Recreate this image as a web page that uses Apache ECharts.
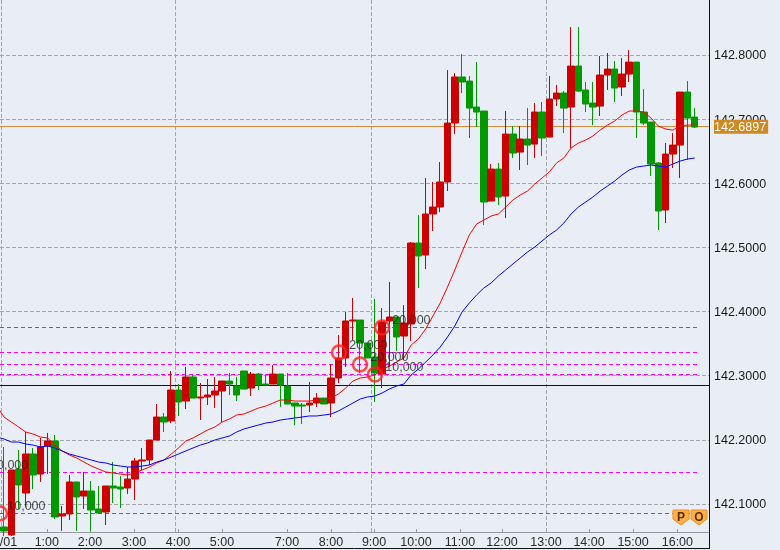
<!DOCTYPE html>
<html><head><meta charset="utf-8">
<style>html,body{margin:0;padding:0;background:#e9edf5}#c{width:780px;height:550px}</style>
<script src="https://cdn.jsdelivr.net/npm/echarts@6/dist/echarts.min.js"></script>
</head><body><div id="c"></div>
<script>
// [open, close, low, high] for each ten-minute candle, index 0 upward
const candles = [
[142.0641,142.0579,142.05,142.1888],[142.0516,142.153,142.05,142.153],[142.1545,142.1296,142.0922,142.1841],[142.1171,142.1779,142.0953,142.2122],
[142.1779,142.1452,142.1233,142.1873],[142.1467,142.1888,142.1343,142.2029],[142.1904,142.1982,142.1467,142.2107],[142.1982,142.0797,142.0766,142.2075],
[142.0813,142.0844,142.0579,142.0968],[142.0844,142.1343,142.075,142.1452],[142.1343,142.1109,142.0579,142.1343],[142.1124,142.1202,142.0922,142.1499],
[142.1202,142.0906,142.0579,142.1358],[142.0922,142.0859,142.0859,142.128],[142.0875,142.128,142.0672,142.128],[142.128,142.1249,142.1015,142.1654],
[142.1265,142.1233,142.0937,142.1436],[142.1249,142.1389,142.1156,142.1576],[142.1389,142.167,142.1062,142.1717],[142.167,142.1686,142.153,142.1873],
[142.1686,142.1997,142.1608,142.1997],[142.1997,142.2356,142.1997,142.2559],[142.2356,142.2278,142.2122,142.2418],[142.2294,142.2777,142.2262,142.3073],
[142.2777,142.259,142.2372,142.287],[142.2605,142.298,142.2481,142.3135],[142.298,142.2652,142.2652,142.3011],[142.2652,142.2668,142.2309,142.2886],
[142.2668,142.2699,142.2543,142.2948],[142.2699,142.2761,142.2496,142.298],[142.2761,142.2917,142.2278,142.2917],[142.2917,142.287,142.2699,142.3042],
[142.2839,142.2699,142.2605,142.298],[142.3073,142.2792,142.2792,142.3073],[142.2808,142.3026,142.2683,142.3058],[142.3026,142.2855,142.2777,142.3042],
[142.287,142.2855,142.2855,142.3026],[142.287,142.3026,142.287,142.3167],[142.3026,142.2855,142.2512,142.3026],[142.2839,142.2559,142.2559,142.3042],
[142.2574,142.2527,142.2231,142.2574],[142.2543,142.2527,142.2247,142.2574],[142.2543,142.2574,142.2434,142.2902],[142.2574,142.2652,142.2512,142.273],
[142.2652,142.2559,142.2559,142.2652],[142.2574,142.2964,142.2356,142.3182],[142.2964,142.3276,142.2886,142.3634],[142.3276,142.3853,142.3135,142.3993],
[142.3853,142.3868,142.3556,142.4211],[142.3868,142.351,142.3042,142.3868],[142.351,142.3276,142.3276,142.351],[142.3291,142.3042,142.259,142.4196],
[142.3026,142.3837,142.2808,142.4055],[142.3853,142.3915,142.3135,142.4461],[142.3915,142.3603,142.3385,142.3915],[142.3619,142.3821,142.3245,142.4102],
[142.3806,142.5069,142.3541,142.5084],[142.5069,142.4866,142.4367,142.5505],[142.4882,142.5521,142.4663,142.6082],[142.5521,142.563,142.5256,142.602],
[142.563,142.602,142.5552,142.6331],[142.602,142.6939,142.5879,142.7766],[142.6939,142.7657,142.6768,142.7719],[142.7657,142.7579,142.7407,142.8015],
[142.7594,142.7173,142.6706,142.7672],[142.7189,142.7111,142.6877,142.789],[142.7127,142.5708,142.5349,142.7127],[142.5723,142.6222,142.5723,142.63],
[142.6222,142.5786,142.5661,142.6316],[142.5801,142.6768,142.5458,142.7127],[142.6768,142.6472,142.6394,142.6893],[142.6487,142.669,142.6207,142.6893],
[142.669,142.6596,142.6285,142.7173],[142.6612,142.7111,142.6394,142.7251],[142.7111,142.6706,142.6425,142.7267],[142.6721,142.7314,142.6721,142.7672],
[142.7314,142.7407,142.7204,142.7532],[142.7407,142.7173,142.6784,142.7438],[142.7189,142.7828,142.655,142.8436],[142.7828,142.7438,142.7423,142.8436],
[142.7454,142.7236,142.7111,142.7579],[142.7251,142.7189,142.6908,142.7579],[142.7204,142.7688,142.7049,142.7984],[142.7688,142.7781,142.7454,142.8031],
[142.7781,142.7485,142.7267,142.7906],[142.7501,142.7703,142.736,142.7953],[142.7703,142.789,142.7579,142.8077],[142.789,142.7111,142.6706,142.789],
[142.7111,142.6939,142.6908,142.7469],[142.6955,142.63,142.6113,142.6955],[142.6316,142.5568,142.5271,142.6331],[142.5583,142.6456,142.538,142.6628],
[142.6456,142.6596,142.6238,142.6784],[142.6596,142.7423,142.6082,142.7423],[142.7423,142.7017,142.6363,142.7594],[142.7033,142.6877,142.6861,142.7173]
];
// moving averages; the first value belongs to the candle just before index 0
const maRed = [142.2527,142.2356,142.2278,142.22,142.2122,142.2091,142.2044,142.2029,142.1919,142.1826,142.1764,142.1717,142.1654,142.1592,142.1545,142.1499,142.1483,142.1467,142.1452,142.1483,142.153,142.1576,142.1639,142.1686,142.1779,142.1873,142.1982,142.2029,142.2091,142.2153,142.22,142.2278,142.2325,142.2387,142.2403,142.245,142.2496,142.2527,142.2574,142.2621,142.2621,142.2605,142.2605,142.2605,142.2621,142.2621,142.2652,142.2715,142.2808,142.2917,142.2964,142.298,142.3011,142.3089,142.3151,142.3213,142.3276,142.3478,142.3572,142.3728,142.3931,142.4133,142.4383,142.4648,142.4928,142.5193,142.5365,142.5427,142.549,142.5521,142.563,142.5739,142.5817,142.5879,142.5988,142.6082,142.6176,142.6316,142.6394,142.655,142.6628,142.6674,142.6737,142.683,142.6908,142.6971,142.7064,142.7127,142.7127,142.7111,142.7017,142.6893,142.6846,142.683,142.6893,142.6908,142.6908];
const maBlue = [142.2044,142.2013,142.1966,142.1966,142.1935,142.1919,142.1888,142.1904,142.1873,142.1826,142.1779,142.1748,142.1717,142.1686,142.1654,142.1639,142.1608,142.1592,142.1576,142.1576,142.1592,142.1608,142.1654,142.1686,142.1732,142.1779,142.1826,142.1873,142.1919,142.1951,142.1997,142.2029,142.206,142.2122,142.2169,142.22,142.2231,142.2262,142.2278,142.2309,142.2325,142.234,142.2356,142.2372,142.2372,142.2387,142.2403,142.245,142.2512,142.2574,142.2637,142.2668,142.2683,142.273,142.2792,142.2839,142.287,142.3011,142.3104,142.3213,142.3323,142.3447,142.3603,142.3775,142.3993,142.4133,142.4258,142.4367,142.4445,142.4554,142.4648,142.4741,142.4835,142.4928,142.5006,142.51,142.5193,142.5271,142.538,142.5521,142.563,142.5708,142.5786,142.5879,142.5957,142.6035,142.6129,142.6207,142.6253,142.6269,142.6285,142.6269,142.6253,142.63,142.6347,142.6378,142.6394];
const priceTicks = [142.1,142.2,142.3,142.4,142.5,142.6,142.7,142.8];
const currentPrice = 142.6897;
const blackLevel = 142.2847;
const pendingLevels = [142.3752,142.3362,142.3175,142.3019,142.1491,142.0852];
const timeLabels = ['/01','1:00','2:00','3:00','4:00','5:00','7:00','8:00','9:00','10:00','11:00','12:00','13:00','14:00','15:00','16:00'];
const timeLabelAt = [0.62,5.89,11.83,17.88,23.93,29.99,38.93,44.98,50.9,56.67,62.72,68.5,74.55,80.47,86.52,92.62];
const timeLinesAt = [-0.344,23.59,50.55,74.62];
const tradeX = [-0.55,-0.55,46.08,48.97,51.03,52];
const tradeY = [142.0852,142.1491,142.3362,142.3175,142.3019,142.3752];
const tradeText = ['10,000','20,000','20,000','20,000','10,000','20,000'];

const xMin=-0.55, xMax=96.97, yMin=142.0563, yMax=142.8858, levelEnd=95.45;
const gridLines=[
  ...timeLinesAt.map(v=>({xAxis:v,lineStyle:{color:'#a6a6a6',type:[4,2],width:1}})),
  {yAxis:currentPrice,lineStyle:{color:'#cc8c3c',type:'solid',width:1}},
  {yAxis:blackLevel,lineStyle:{color:'#111',type:'solid',width:1}},
  ...pendingLevels.map(v=>[{coord:[xMin,v],lineStyle:{color:'#ff00ff',type:[4,3],width:1}},{coord:[levelEnd,v]}])
];
const withIndex=a=>a.map((v,i)=>[i-1,v]);
const chart=echarts.init(document.getElementById('c'),null,{renderer:'canvas'});
chart.setOption({
  animation:false,
  backgroundColor:'#e9edf5',
  textStyle:{fontFamily:'"Liberation Sans",Arial,sans-serif'},
  grid:{left:0,top:0,width:709,height:532,outerBoundsMode:'none'},
  xAxis:{type:'value',min:xMin,max:xMax,splitLine:{show:false},
    axisLine:{show:true,onZero:false,lineStyle:{color:'#999',width:1}},
    axisTick:{show:true,inside:true,length:3,customValues:timeLabelAt,lineStyle:{color:'#999'}},
    axisLabel:{customValues:timeLabelAt,margin:4,fontSize:12.5,color:'#2a2a2a',showMinLabel:true,showMaxLabel:true,
      formatter:v=>timeLabels[timeLabelAt.indexOf(v)]||''}},
  yAxis:{type:'value',position:'right',min:yMin,max:yMax,
    splitLine:{show:true,lineStyle:{color:'#a6a6a6',type:[4,2],width:1}},
    axisLine:{show:true,onZero:false,lineStyle:{color:'#111',width:1}},axisTick:{show:false,customValues:priceTicks},
    axisLabel:{customValues:[...priceTicks,currentPrice],margin:5,fontSize:12.5,color:'#1a1a1a',padding:[2,0,0,0],
      formatter:v=>v===currentPrice?'{cur|'+v.toFixed(4)+'}':v.toFixed(4),
      rich:{cur:{color:'#fff',backgroundColor:'#d0881f',fontSize:12.5,padding:[1,2,0,0],lineHeight:13}}}},
  series:[
    {type:'line',name:'levels',data:[],z:1,silent:true,markLine:{silent:true,z:1,precision:4,symbol:'none',label:{show:false},animation:false,data:gridLines}},
    {type:'candlestick',name:'price',z:3,barWidth:7,data:candles.map((c,i)=>[i,...c]),encode:{x:0,y:[1,2,3,4]},
      itemStyle:{color:'#cc0000',color0:'#009900',borderColor:'#cc0000',borderColor0:'#009900',borderWidth:1}},
    {type:'line',name:'fast',z:4,showSymbol:false,symbol:'none',data:withIndex(maRed),lineStyle:{color:'#ff0000',width:1}},
    {type:'line',name:'slow',z:4,showSymbol:false,symbol:'none',data:withIndex(maBlue),lineStyle:{color:'#0000ff',width:1}},
    {type:'scatter',name:'trades',z:5,clip:true,data:tradeX.map((x,i)=>({value:[x,tradeY[i]],name:tradeText[i],
        symbolSize:i===1?0:14,
        label:{offset:i===0?[-3,-7]:i===1?[-12,-7]:[0,-7]}})),
      symbol:'circle',itemStyle:{color:'rgba(0,0,0,0)',borderColor:'#ff2020',borderWidth:2.5},
      label:{show:true,position:'right',distance:2,formatter:p=>p.name,fontSize:12.5,color:'#222'}}
  ],
  graphic:[
    {type:'line',z:20,shape:{x1:709.5,y1:0,x2:709.5,y2:549},style:{stroke:'#111',lineWidth:1}},
    {type:'line',z:20,shape:{x1:0,y1:548.5,x2:709,y2:548.5},style:{stroke:'#111',lineWidth:1}},
    ...[['P',673],['O',691]].flatMap(([t,x])=>[
      {type:'polygon',z:20,shape:{points:[[x,510],[x+16,510],[x+16,519],[x+8,525],[x,519]]},style:{fill:'#ffb145',stroke:'#f28c1e',lineWidth:1}},
      {type:'text',z:21,x:x+8,y:517.5,style:{text:t,fill:'#5a2c00',font:'bold 12px "Liberation Sans"',align:'center',verticalAlign:'middle'}}
    ])
  ]
});
</script></body></html>
